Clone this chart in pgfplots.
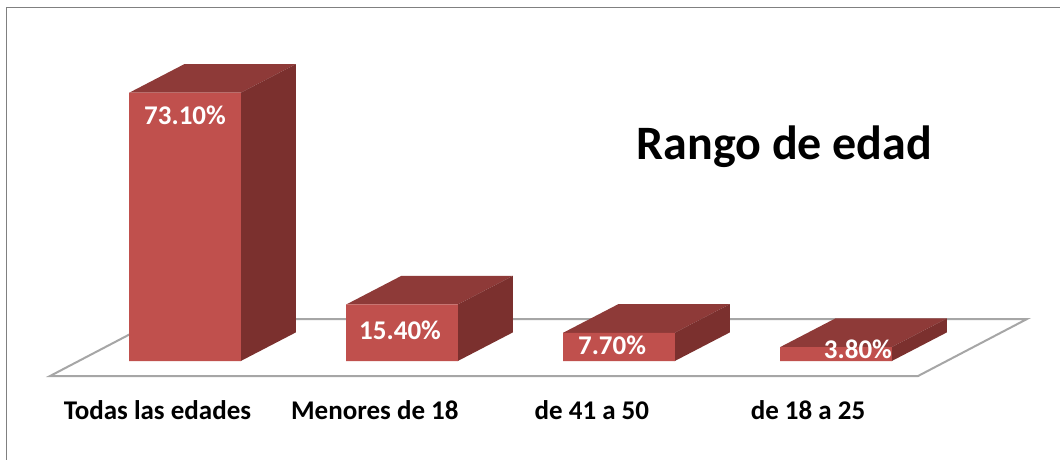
\documentclass[border=0pt]{standalone}
\usepackage{fontspec}
\setmainfont{Carlito}
\usepackage{pgfplots}
\pgfplotsset{compat=1.18}
\definecolor{frontc}{HTML}{C0504D}
\definecolor{topc}{HTML}{8E3A38}
\definecolor{sidec}{HTML}{7B302E}
\definecolor{floorc}{HTML}{A6A6A6}
\definecolor{framec}{HTML}{808080}
\begin{document}
\begin{tikzpicture}
\begin{axis}[
  scale only axis, width=1060pt, height=459pt,
  xmin=-0.8525, xmax=4.0323, ymin=-26.70, ymax=98.37,
  axis line style={draw=none}, tick style={draw=none},
  ytick=\empty,
  xtick={-0.127,0.875,1.875,2.871},
  xticklabels={Todas las edades,Menores de 18,de 41 a 50,de 18 a 25},
  x tick label style={font=\fontsize{27}{30}\selectfont\bfseries, anchor=center, yshift=49pt},
  clip=true,
]
% chart frame
\addplot[framec, line width=1.7pt, forget plot] coordinates {(-0.8226,-30) (-0.8226,96.32) (4.1,96.32)};
% floor
\addplot[fill=white, draw=floorc, line width=2pt, forget plot] coordinates {(-0.622,-4.09) (3.378,-4.09) (3.880,11.44) (-0.120,11.44)} -- cycle;
% bar 1 : 73.1
\addplot[fill=topc, draw=none, forget plot] coordinates {(-0.257,73.1) (0.257,73.1) (0.511,80.9) (-0.003,80.9)} -- cycle;
\addplot[fill=sidec, draw=none, forget plot] coordinates {(0.257,0) (0.511,7.8) (0.511,80.9) (0.257,73.1)} -- cycle;
% bar 2 : 15.4
\addplot[fill=topc, draw=none, forget plot] coordinates {(0.743,15.4) (1.257,15.4) (1.511,23.2) (0.997,23.2)} -- cycle;
\addplot[fill=sidec, draw=none, forget plot] coordinates {(1.257,0) (1.511,7.8) (1.511,23.2) (1.257,15.4)} -- cycle;
% bar 3 : 7.7
\addplot[fill=topc, draw=none, forget plot] coordinates {(1.743,7.7) (2.257,7.7) (2.511,15.5) (1.997,15.5)} -- cycle;
\addplot[fill=sidec, draw=none, forget plot] coordinates {(2.257,0) (2.511,7.8) (2.511,15.5) (2.257,7.7)} -- cycle;
% bar 4 : 3.8
\addplot[fill=topc, draw=none, forget plot] coordinates {(2.743,3.8) (3.257,3.8) (3.511,11.6) (2.997,11.6)} -- cycle;
\addplot[fill=sidec, draw=none, forget plot] coordinates {(3.257,0) (3.511,7.8) (3.511,11.6) (3.257,3.8)} -- cycle;
% front faces
\addplot[ybar, bar width=0.514, fill=frontc, draw=none, forget plot] coordinates {(0,73.1) (1,15.4) (2,7.7) (3,3.8)};
% data labels
\begin{scope}[every node/.style={text=white, font=\fontsize{27}{30}\selectfont\bfseries}]
\node at (axis cs:0,67.0) {73.10\%};
\node at (axis cs:0.991,8.45) {15.40\%};
\node at (axis cs:1.968,4.36) {7.70\%};
\node at (axis cs:3.101,3.27) {3.80\%};
\end{scope}
\node[font=\fontsize{48}{52}\selectfont\bfseries] at (axis cs:2.762,58.35) {Rango de edad};
\end{axis}
\end{tikzpicture}
\end{document}
